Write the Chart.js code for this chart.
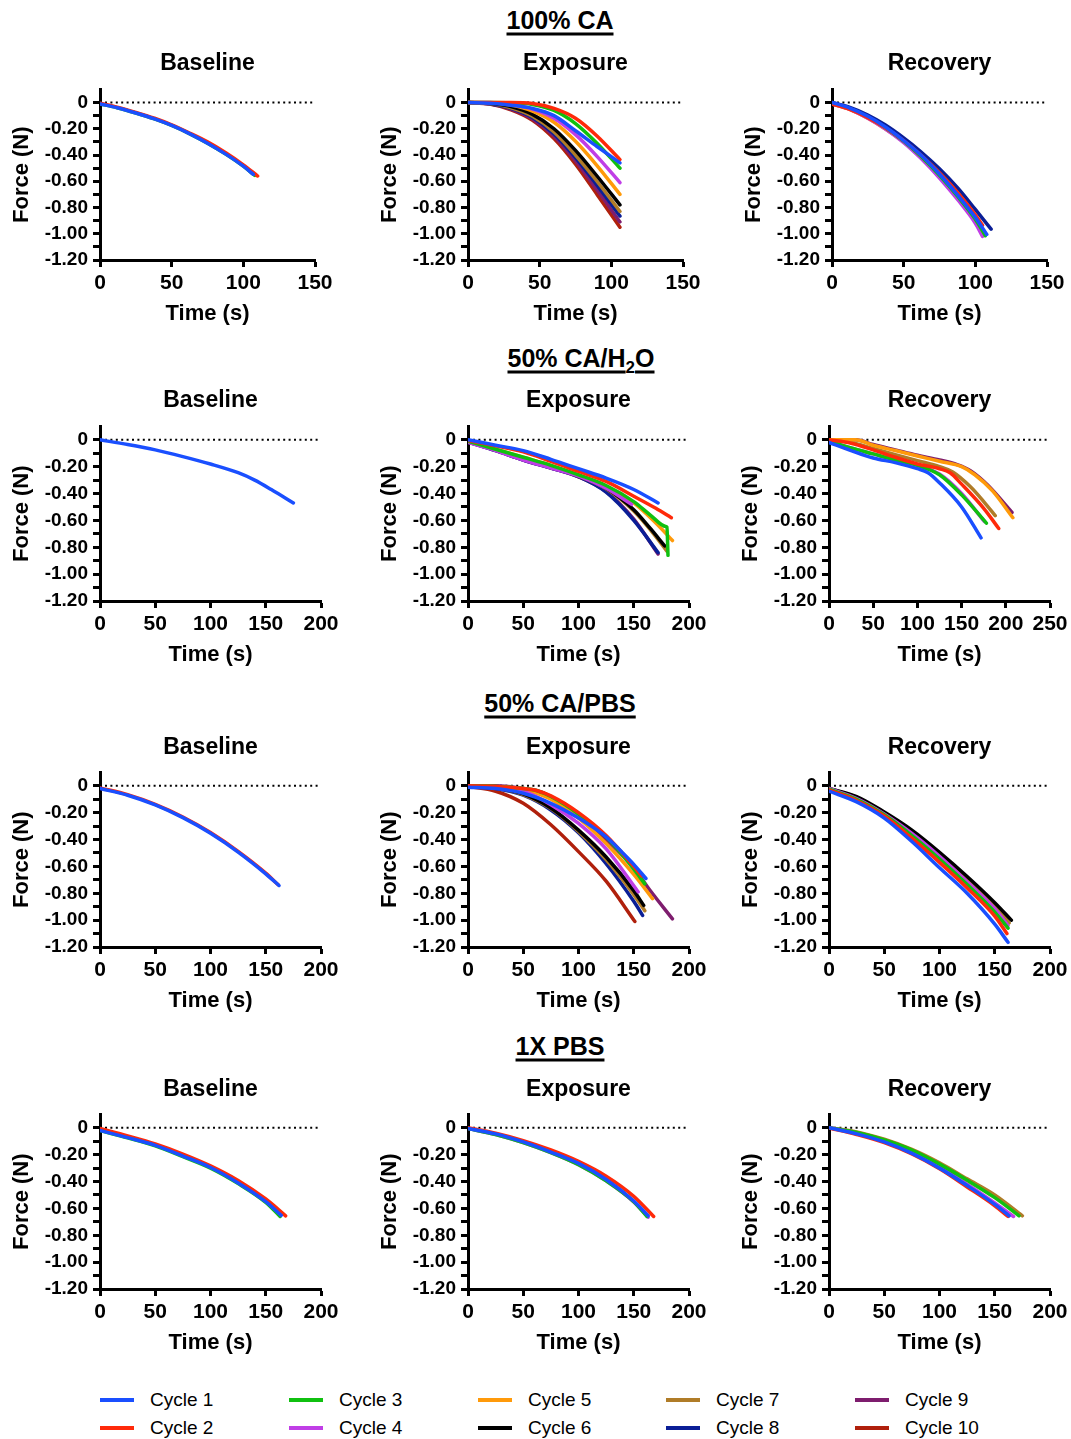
<!DOCTYPE html>
<html>
<head>
<meta charset="utf-8">
<script src="https://cdn.jsdelivr.net/npm/chart.js@4.4.1/dist/chart.umd.min.js"></script>
<style>
  body { margin: 0; background: #fff; font-family: "Liberation Sans", Arial, sans-serif; color: #000; }
  #page { position: relative; width: 1071px; height: 1439px; overflow: hidden; }
  canvas { position: absolute; }
  .group { position: absolute; font-weight: bold; font-size: 25px; text-decoration: underline;
           text-decoration-thickness: 3px; text-underline-offset: 4px; transform: translate(-50%, -50%); white-space: nowrap; }
  .group sub { font-size: 17px; line-height: 0; }
  .sub { position: absolute; font-weight: bold; font-size: 23px; transform: translate(-50%, -50%); white-space: nowrap; }
  .leg { position: absolute; font-size: 19px; display: flex; align-items: center; transform: translateY(-50%); white-space: nowrap; }
  .leg i { display: inline-block; width: 34px; height: 4px; margin-right: 16px; }
</style>
</head>
<body>
<div id="page"></div>
<script>
// cycles and colours
var cycleLabels = ['Cycle 1', 'Cycle 2', 'Cycle 3', 'Cycle 4', 'Cycle 5', 'Cycle 6', 'Cycle 7', 'Cycle 8', 'Cycle 9', 'Cycle 10'];
var cycleColors = ['#1a4fff', '#ff2a0a', '#10c010', '#c03ee6', '#ff9a0a', '#000000', '#b07c28', '#0a1e96', '#7e1d6e', '#b0200c'];

var groupTitles = ['100% CA', '50% CA/H<sub>2</sub>O', '50% CA/PBS', '1X PBS'];
var phaseTitles = ['Baseline', 'Exposure', 'Recovery'];

// y axis: labelled ticks
var forceTicks = [0, -0.2, -0.4, -0.6, -0.8, -1.0, -1.2];
var forceTickLabels = ['0', '-0.20', '-0.40', '-0.60', '-0.80', '-1.00', '-1.20'];
// x axis max per panel [row][col]
var timeMax = [[150, 150, 150], [200, 200, 250], [200, 200, 200], [200, 200, 200]];

// ---- 100% CA ----  points are [time (s), force (N)], keyed by cycle number
var ca100Baseline = {
  1: [[0,-0.01],[12,-0.04],[25,-0.08],[38,-0.125],[50,-0.175],[62,-0.235],[75,-0.31],[88,-0.395],[100,-0.485],[107,-0.547]],
  2: [[0,-0.005],[12,-0.035],[25,-0.075],[38,-0.12],[50,-0.17],[62,-0.23],[75,-0.30],[88,-0.385],[100,-0.475],[110,-0.56]],
  3: [[0,-0.01],[12,-0.04],[25,-0.08],[38,-0.125],[50,-0.175],[62,-0.235],[75,-0.31],[88,-0.395],[100,-0.485],[108,-0.556]]
};
var ca100Exposure = {
  1: [[0,0],[15,-0.005],[30,-0.02],[45,-0.045],[60,-0.10],[75,-0.215],[90,-0.335],[106,-0.46]],
  2: [[0,0],[15,0],[30,0],[45,-0.008],[60,-0.045],[75,-0.12],[90,-0.255],[106,-0.435]],
  3: [[0,0],[15,0],[30,-0.002],[45,-0.015],[60,-0.06],[75,-0.16],[90,-0.31],[106,-0.50]],
  4: [[0,0],[15,0],[30,-0.015],[45,-0.05],[60,-0.12],[75,-0.245],[90,-0.41],[106,-0.61]],
  5: [[0,0],[15,-0.002],[30,-0.02],[45,-0.065],[60,-0.15],[75,-0.295],[90,-0.48],[106,-0.70]],
  6: [[0,0],[15,-0.005],[30,-0.03],[45,-0.09],[60,-0.20],[75,-0.365],[90,-0.56],[106,-0.78]],
  7: [[0,0],[15,-0.008],[30,-0.04],[45,-0.105],[60,-0.225],[75,-0.40],[90,-0.60],[106,-0.83]],
  8: [[0,0],[15,-0.01],[30,-0.045],[45,-0.115],[60,-0.24],[75,-0.42],[90,-0.63],[106,-0.865]],
  9: [[0,0],[15,-0.01],[30,-0.05],[45,-0.125],[60,-0.255],[75,-0.445],[90,-0.665],[106,-0.91]],
  10: [[0,0],[15,-0.012],[30,-0.055],[45,-0.135],[60,-0.275],[75,-0.47],[90,-0.70],[106,-0.95]]
};
var ca100Recovery = {
  1: [[0,0],[12,-0.04],[25,-0.105],[37,-0.185],[50,-0.29],[62,-0.40],[75,-0.545],[88,-0.71],[100,-0.875],[108,-1.005]],
  2: [[0,-0.01],[12,-0.05],[25,-0.115],[37,-0.19],[50,-0.29],[62,-0.40],[75,-0.535],[88,-0.69],[100,-0.855],[105,-0.935]],
  3: [[0,-0.005],[12,-0.045],[25,-0.11],[37,-0.19],[50,-0.295],[62,-0.41],[75,-0.555],[88,-0.72],[100,-0.89],[107,-1.015]],
  4: [[0,-0.01],[12,-0.05],[25,-0.12],[37,-0.2],[50,-0.305],[62,-0.425],[75,-0.575],[88,-0.745],[100,-0.92],[105,-1.02]],
  5: [[0,-0.01],[12,-0.05],[25,-0.12],[37,-0.2],[50,-0.30],[62,-0.415],[75,-0.56],[88,-0.72],[100,-0.89],[104,-0.95]],
  8: [[0,0],[12,-0.035],[25,-0.095],[37,-0.17],[50,-0.27],[62,-0.375],[75,-0.505],[88,-0.655],[100,-0.815],[111,-0.965]]
};

// ---- 50% CA/H2O ----
var h2oBaseline = {
  1: [[0,0],[25,-0.035],[50,-0.075],[75,-0.125],[100,-0.18],[125,-0.245],[140,-0.30],[155,-0.37],[175,-0.47]]
};
var h2oExposure = {
  1: [[0,0],[25,-0.04],[50,-0.08],[75,-0.145],[100,-0.215],[125,-0.285],[150,-0.37],[172,-0.47]],
  2: [[0,-0.005],[25,-0.045],[50,-0.09],[75,-0.16],[100,-0.235],[125,-0.31],[150,-0.42],[170,-0.51],[184,-0.58]],
  3: [[0,-0.01],[25,-0.07],[50,-0.13],[75,-0.19],[100,-0.26],[125,-0.34],[150,-0.46],[165,-0.56],[179,-0.645],[180,-0.65],[181,-0.86]],
  4: [[0,-0.02],[25,-0.08],[50,-0.15],[75,-0.21],[100,-0.27],[125,-0.36],[148,-0.48]],
  5: [[0,-0.01],[25,-0.07],[50,-0.13],[75,-0.19],[100,-0.265],[125,-0.35],[150,-0.47],[170,-0.62],[185,-0.75]],
  6: [[0,-0.01],[25,-0.075],[50,-0.14],[75,-0.2],[100,-0.27],[125,-0.36],[150,-0.52],[165,-0.66],[178,-0.79]],
  7: [[0,-0.01],[25,-0.075],[50,-0.14],[75,-0.2],[100,-0.27],[125,-0.365],[150,-0.53],[170,-0.72],[180,-0.83]],
  8: [[0,-0.015],[25,-0.08],[50,-0.15],[75,-0.21],[100,-0.275],[125,-0.39],[150,-0.60],[172,-0.84]],
  9: [[0,-0.015],[25,-0.08],[50,-0.15],[75,-0.21],[100,-0.275],[125,-0.385],[150,-0.59],[172,-0.85]]
};
var h2oRecovery = {
  1: [[0,-0.02],[25,-0.08],[50,-0.135],[75,-0.17],[100,-0.215],[112,-0.245],[125,-0.32],[150,-0.50],[172,-0.73]],
  2: [[0,0],[25,-0.025],[50,-0.075],[75,-0.13],[100,-0.18],[125,-0.215],[137,-0.245],[150,-0.33],[175,-0.51],[192,-0.66]],
  3: [[0,-0.01],[25,-0.06],[50,-0.105],[75,-0.15],[100,-0.19],[125,-0.26],[150,-0.41],[178,-0.62]],
  4: [[0,-0.01],[25,-0.06],[50,-0.105],[75,-0.15],[100,-0.19],[125,-0.255],[150,-0.40],[176,-0.61]],
  5: [[0,0],[30,0],[50,-0.04],[75,-0.08],[100,-0.12],[125,-0.16],[150,-0.20],[165,-0.26],[185,-0.38],[208,-0.58]],
  7: [[0,0],[25,-0.02],[50,-0.065],[75,-0.11],[100,-0.155],[125,-0.20],[140,-0.24],[160,-0.35],[175,-0.46],[188,-0.565]],
  9: [[0,0],[30,0],[50,-0.035],[75,-0.075],[100,-0.115],[125,-0.15],[145,-0.185],[160,-0.23],[180,-0.34],[207,-0.54]]
};

// ---- 50% CA/PBS ----
var pbsBaseline = {
  1: [[0,-0.02],[25,-0.07],[50,-0.142],[75,-0.237],[100,-0.353],[125,-0.493],[150,-0.655],[162,-0.742]],
  2: [[0,-0.015],[25,-0.066],[50,-0.138],[75,-0.232],[100,-0.348],[125,-0.488],[150,-0.65],[161,-0.735]]
};
var pbsExposure = {
  1: [[0,-0.01],[25,-0.02],[50,-0.055],[75,-0.13],[100,-0.24],[125,-0.38],[140,-0.50],[150,-0.585],[161,-0.69]],
  2: [[0,0],[25,-0.005],[50,-0.02],[62,-0.035],[75,-0.075],[100,-0.20],[125,-0.37],[150,-0.60],[157,-0.67]],
  3: [[0,0],[25,-0.005],[50,-0.02],[62,-0.035],[75,-0.08],[100,-0.21],[125,-0.38],[150,-0.62],[160,-0.73]],
  4: [[0,-0.005],[25,-0.01],[50,-0.04],[75,-0.14],[100,-0.28],[125,-0.47],[154,-0.79]],
  5: [[0,0],[25,-0.005],[50,-0.025],[75,-0.10],[100,-0.24],[125,-0.43],[150,-0.66],[167,-0.84]],
  6: [[0,-0.005],[25,-0.015],[50,-0.06],[75,-0.165],[100,-0.33],[125,-0.53],[150,-0.78],[159,-0.89]],
  7: [[0,-0.005],[25,-0.015],[50,-0.065],[75,-0.17],[100,-0.34],[125,-0.55],[150,-0.81],[160,-0.93]],
  8: [[0,-0.005],[25,-0.02],[50,-0.07],[75,-0.18],[100,-0.35],[125,-0.58],[150,-0.86],[158,-0.965]],
  9: [[0,0],[25,0],[50,-0.02],[62,-0.035],[75,-0.08],[100,-0.22],[125,-0.40],[150,-0.61],[164,-0.77],[185,-0.99]],
  10: [[0,-0.005],[25,-0.04],[50,-0.13],[75,-0.29],[100,-0.49],[125,-0.71],[151,-1.01]]
};
var pbsRecovery = {
  1: [[0,-0.04],[25,-0.12],[50,-0.24],[75,-0.415],[100,-0.61],[125,-0.80],[150,-1.03],[162,-1.165]],
  2: [[0,-0.03],[25,-0.11],[50,-0.225],[75,-0.39],[100,-0.57],[125,-0.76],[150,-0.97],[161,-1.10]],
  3: [[0,-0.025],[25,-0.10],[50,-0.215],[75,-0.37],[100,-0.545],[125,-0.735],[150,-0.94],[162,-1.06]],
  4: [[0,-0.02],[25,-0.095],[50,-0.21],[75,-0.355],[100,-0.525],[125,-0.715],[150,-0.915],[162,-1.04]],
  6: [[0,-0.02],[25,-0.08],[50,-0.195],[75,-0.33],[100,-0.495],[125,-0.675],[150,-0.87],[165,-1.00]],
  7: [[0,-0.02],[25,-0.085],[50,-0.20],[75,-0.34],[100,-0.51],[125,-0.69],[150,-0.89],[163,-1.02]]
};

// ---- 1X PBS ----
var pbs1xBaseline = {
  1: [[0,-0.02],[25,-0.073],[50,-0.13],[75,-0.21],[100,-0.295],[125,-0.41],[150,-0.55],[164,-0.652]],
  2: [[0,-0.005],[25,-0.06],[50,-0.12],[75,-0.195],[100,-0.283],[125,-0.392],[150,-0.53],[168,-0.655]],
  3: [[0,-0.02],[25,-0.075],[50,-0.135],[75,-0.215],[100,-0.30],[125,-0.415],[150,-0.555],[163,-0.66]]
};
var pbs1xExposure = {
  1: [[0,-0.005],[25,-0.045],[50,-0.105],[75,-0.18],[100,-0.265],[125,-0.385],[150,-0.545],[163,-0.655]],
  2: [[0,0],[25,-0.04],[50,-0.095],[75,-0.165],[100,-0.25],[125,-0.36],[150,-0.51],[168,-0.66]],
  3: [[0,-0.005],[25,-0.05],[50,-0.11],[75,-0.185],[100,-0.275],[125,-0.395],[150,-0.55],[162,-0.66]],
  4: [[0,-0.005],[25,-0.05],[50,-0.11],[75,-0.185],[100,-0.275],[125,-0.395],[150,-0.552],[163,-0.665]]
};
var pbs1xRecovery = {
  1: [[0,0],[25,-0.045],[50,-0.105],[75,-0.19],[100,-0.30],[125,-0.43],[150,-0.57],[163,-0.655]],
  2: [[0,0],[25,-0.05],[50,-0.11],[75,-0.195],[100,-0.305],[125,-0.44],[150,-0.58],[162,-0.66]],
  3: [[0,0],[25,-0.035],[50,-0.09],[75,-0.165],[100,-0.27],[125,-0.39],[150,-0.52],[172,-0.655]],
  4: [[0,0],[25,-0.04],[50,-0.10],[75,-0.18],[100,-0.29],[125,-0.42],[150,-0.56],[167,-0.66]],
  7: [[0,0],[25,-0.03],[50,-0.085],[75,-0.16],[100,-0.26],[125,-0.38],[150,-0.50],[175,-0.655]]
};

var panelSeries = [
  [ca100Baseline, ca100Exposure, ca100Recovery],
  [h2oBaseline, h2oExposure, h2oRecovery],
  [pbsBaseline, pbsExposure, pbsRecovery],
  [pbs1xBaseline, pbs1xExposure, pbs1xRecovery]
];

// layout (px)
var rowZeroY = [100, 438, 784, 1126];
var rowTitleY = [20, 358, 703, 1046];
var rowTitleX = [560, 581, 560, 560];
var rowSubY = [62, 399, 746, 1088];

Chart.defaults.font.family = '"Liberation Sans", Arial, sans-serif';
Chart.defaults.color = '#000';

var page = document.getElementById('page');

// dotted line at zero
var zeroLine = {
  id: 'zeroLine',
  beforeDatasetsDraw: function (chart) {
    var ctx = chart.ctx, area = chart.chartArea;
    var y = chart.scales.y.getPixelForValue(0);
    ctx.save();
    ctx.strokeStyle = '#000';
    ctx.lineWidth = 2;
    ctx.setLineDash([2, 3.4]);
    ctx.beginPath();
    ctx.moveTo(area.left + 5, y);
    ctx.lineTo(area.right, y);
    ctx.stroke();
    ctx.restore();
  }
};

function makePanel(row, col) {
  var axisX = col === 0 ? 100 : col === 1 ? 468 : (row === 0 ? 832 : 829);
  var span = row === 0 ? 160 : 163;      // pixels from 0 to -1.2
  var plotW = row === 0 ? 215 : 221;
  var plotH = Math.round(span * 1.3 / 1.2);
  var padTop = 14, xAxisH = 70, yAxisW = 100, padRight = 26;

  var canvas = document.createElement('canvas');
  canvas.width = yAxisW + plotW + padRight;
  canvas.height = padTop + plotH + xAxisH;
  canvas.style.width = canvas.width + 'px';
  canvas.style.height = canvas.height + 'px';
  canvas.style.left = (axisX - yAxisW) + 'px';
  canvas.style.top = (rowZeroY[row] - Math.round(plotH / 13) - padTop) + 'px';
  page.appendChild(canvas);

  var series = panelSeries[row][col];
  var datasets = [];
  Object.keys(series).forEach(function (k) {
    var i = Number(k) - 1;
    datasets.push({
      label: cycleLabels[i],
      data: series[k].map(function (p) { return { x: p[0], y: p[1] }; }),
      borderColor: cycleColors[i],
      backgroundColor: cycleColors[i],
      borderWidth: 3.5,
      pointRadius: 0,
      cubicInterpolationMode: 'monotone',
      borderCapStyle: 'round',
      borderJoinStyle: 'round',
      fill: false
    });
  });

  new Chart(canvas, {
    type: 'line',
    data: { datasets: datasets },
    plugins: [zeroLine],
    options: {
      responsive: false,
      animation: false,
      devicePixelRatio: 1,
      layout: { padding: { top: padTop, right: padRight, left: 0, bottom: 0 } },
      plugins: { legend: { display: false }, tooltip: { enabled: false } },
      scales: {
        x: {
          type: 'linear',
          min: 0,
          max: timeMax[row][col],
          afterFit: function (s) { s.height = xAxisH; },
          border: { color: '#000', width: 3 },
          grid: { drawOnChartArea: false, drawTicks: true, tickLength: 7, tickWidth: 3, tickColor: '#000' },
          ticks: { stepSize: 50, autoSkip: false, maxRotation: 0, padding: 4, color: '#000',
                   font: { size: 21, weight: 'bold' } },
          title: { display: true, text: 'Time (s)', color: '#000', padding: { top: 0, bottom: 3 },
                   font: { size: 22, weight: 'bold' } }
        },
        y: {
          min: -1.2,
          max: 0.1,
          afterFit: function (s) { s.width = yAxisW; },
          border: { color: '#000', width: 3 },
          grid: { drawOnChartArea: false, drawTicks: true, tickLength: 7, tickWidth: 3, tickColor: '#000' },
          ticks: {
            stepSize: 0.1,
            maxTicksLimit: 20,
            autoSkip: false,
            padding: 5,
            color: '#000',
            font: { size: 19, weight: 'bold' },
            callback: function (v) {
              var k = Math.round(v * 10);
              if (k > 0) return null;
              for (var j = 0; j < forceTicks.length; j++) {
                if (Math.round(forceTicks[j] * 10) === k) return forceTickLabels[j];
              }
              return '';
            }
          },
          title: { display: true, text: 'Force (N)', color: '#000', padding: { top: 9, bottom: 0 },
                   font: { size: 22, weight: 'bold' } }
        }
      }
    }
  });

  var sub = document.createElement('div');
  sub.className = 'sub';
  sub.textContent = phaseTitles[col];
  sub.style.left = (axisX + plotW / 2) + 'px';
  sub.style.top = rowSubY[row] + 'px';
  page.appendChild(sub);
}

for (var r = 0; r < 4; r++) {
  var g = document.createElement('div');
  g.className = 'group';
  g.innerHTML = groupTitles[r];
  g.style.left = rowTitleX[r] + 'px';
  g.style.top = rowTitleY[r] + 'px';
  page.appendChild(g);
  for (var c = 0; c < 3; c++) makePanel(r, c);
}

// legend: 5 columns x 2 rows
var legColX = [100, 289, 478, 666, 855];
var legRowY = [1400, 1428];
cycleLabels.forEach(function (lbl, i) {
  var d = document.createElement('div');
  d.className = 'leg';
  d.style.left = legColX[Math.floor(i / 2)] + 'px';
  d.style.top = legRowY[i % 2] + 'px';
  d.innerHTML = '<i style="background:' + cycleColors[i] + '"></i>' + lbl;
  page.appendChild(d);
});
</script>
</body>
</html>
